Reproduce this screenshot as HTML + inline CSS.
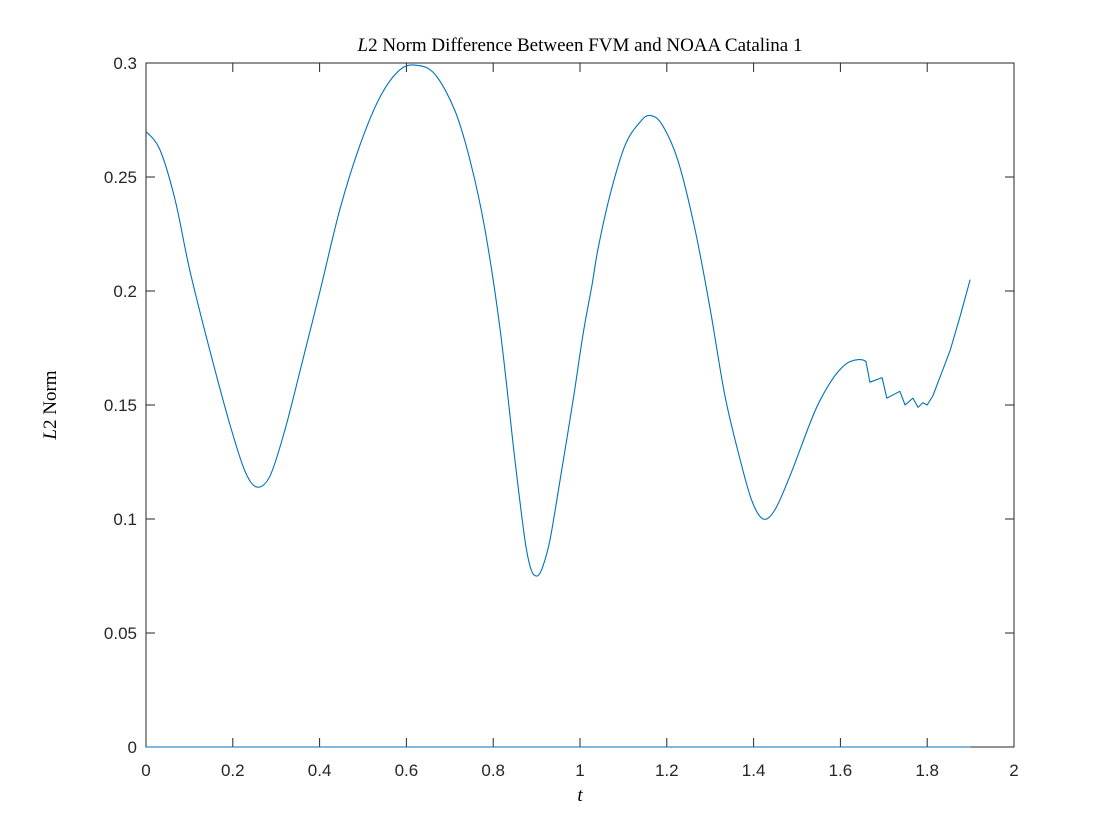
<!DOCTYPE html>
<html><head><meta charset="utf-8"><style>
body{margin:0;background:#fff;}
svg{display:block;}
.tk{font-family:"Liberation Sans",sans-serif;font-size:17px;fill:#262626;}
.ser{font-family:"Liberation Serif",serif;font-size:19px;fill:#000;}
</style></head><body>
<svg id="chart" width="1120" height="840" viewBox="0 0 1120 840" xmlns="http://www.w3.org/2000/svg">
<rect x="0" y="0" width="1120" height="840" fill="#fff"/>
<text class="ser" x="580" y="51" text-anchor="middle"><tspan font-style="italic">L</tspan>2 Norm Difference Between FVM and NOAA Catalina 1</text>
<text class="ser" x="580" y="801" text-anchor="middle" font-style="italic">t</text>
<text class="ser" transform="translate(56,405) rotate(-90)" text-anchor="middle"><tspan font-style="italic">L</tspan>2 Norm</text>
</svg>
<script>
const tVals=[0,0.032,0.067,0.101,0.147,0.194,0.228,0.256,0.286,0.320,0.355,0.401,0.447,0.493,0.539,0.585,0.624,0.666,0.712,0.747,0.781,0.816,0.850,0.873,0.887,0.901,0.914,0.931,0.954,0.984,1.007,1.028,1.041,1.069,1.104,1.138,1.161,1.189,1.226,1.265,1.300,1.334,1.369,1.396,1.422,1.449,1.484,1.530,1.553,1.588,1.622,1.659,1.668,1.696,1.707,1.737,1.749,1.767,1.779,1.790,1.800,1.813,1.829,1.853,1.876,1.899];
const normVals=[0.270,0.262,0.240,0.209,0.174,0.141,0.121,0.114,0.119,0.139,0.165,0.200,0.236,0.264,0.285,0.297,0.299,0.295,0.279,0.257,0.227,0.183,0.126,0.091,0.078,0.075,0.079,0.091,0.117,0.152,0.181,0.203,0.218,0.242,0.264,0.274,0.277,0.273,0.257,0.227,0.192,0.154,0.126,0.108,0.100,0.104,0.119,0.142,0.152,0.163,0.169,0.169,0.160,0.162,0.153,0.156,0.150,0.153,0.149,0.151,0.150,0.154,0.162,0.174,0.189,0.205];
const zeroT=[0,1.9];
const zeroVals=[0,0];
const xTicks=[0,0.2,0.4,0.6,0.8,1,1.2,1.4,1.6,1.8,2];
const xTickLabels=["0","0.2","0.4","0.6","0.8","1","1.2","1.4","1.6","1.8","2"];
const yTicks=[0,0.05,0.1,0.15,0.2,0.25,0.3];
const yTickLabels=["0","0.05","0.1","0.15","0.2","0.25","0.3"];
const smoothUntil=1.66;
const L=146,R=1014,T=63,B=747;
const xs=v=>L+(v-0)/(2-0)*(R-L);
const ys=v=>B-(v-0)/(0.3-0)*(B-T);
const NS="http://www.w3.org/2000/svg";
const svg=document.getElementById('chart');
function mk(tag,attrs){const e=document.createElementNS(NS,tag);for(const k in attrs)e.setAttribute(k,attrs[k]);return e;}
const box=mk('rect',{x:L,y:T,width:R-L,height:B-T,fill:'none',stroke:'#262626','stroke-width':1});


svg.appendChild(box);
xTicks.forEach((v,i)=>{
 const x=xs(v);
 const t1=mk('line',{x1:x,x2:x,y1:B,y2:B-9,stroke:'#262626'});
 
 
 svg.appendChild(t1);
 const t2=mk('line',{x1:x,x2:x,y1:T,y2:T+9,stroke:'#262626'});
 
 
 svg.appendChild(t2);
 const lb=mk('text',{x:x,y:B+29,'text-anchor':'middle',class:'tk'});
 lb.textContent=xTickLabels[i];
 
 
 svg.appendChild(lb);
});
yTicks.forEach((v,i)=>{
 const y=ys(v);
 const t1=mk('line',{x1:L,x2:L+9,y1:y,y2:y,stroke:'#262626'});
 
 
 svg.appendChild(t1);
 const t2=mk('line',{x1:R,x2:R-9,y1:y,y2:y,stroke:'#262626'});
 
 
 svg.appendChild(t2);
 const lb=mk('text',{x:L-9,y:y+6,'text-anchor':'end',class:'tk'});
 lb.textContent=yTickLabels[i];
 
 
 svg.appendChild(lb);
});
const P=tVals.map((t,i)=>[xs(t),ys(normVals[i])]);
let d='M'+P[0][0]+','+P[0][1];
for(let i=0;i<P.length-1;i++){
 if(tVals[i+1]<=smoothUntil){
  const p0=P[Math.max(0,i-1)],p1=P[i],p2=P[i+1],p3=P[Math.min(P.length-1,i+2)];
  const c1=[p1[0]+(p2[0]-p0[0])/6,p1[1]+(p2[1]-p0[1])/6];
  const c2=[p2[0]-(p3[0]-p1[0])/6,p2[1]-(p3[1]-p1[1])/6];
  d+=' C'+c1.join(',')+' '+c2.join(',')+' '+p2.join(',');
 } else d+=' L'+P[i+1].join(',');
}
const p1=mk('path',{d:d,fill:'none',stroke:'#0072bd','stroke-width':1.1,'stroke-linejoin':'round'});


svg.appendChild(p1);
const p2=mk('polyline',{points:zeroT.map((t,i)=>xs(t)+','+ys(zeroVals[i])).join(' '),fill:'none',stroke:'#0072bd','stroke-width':1.1});


svg.appendChild(p2);
</script>
</body></html>
